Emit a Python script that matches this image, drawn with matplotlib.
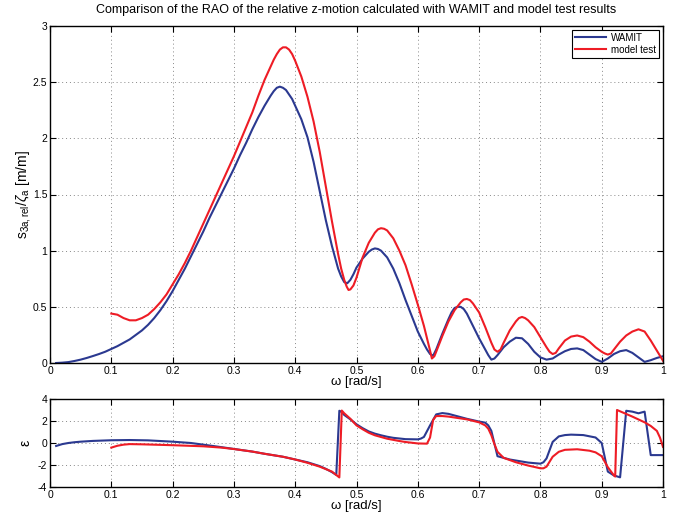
import matplotlib
matplotlib.use("Agg")
import matplotlib.pyplot as plt

plt.rcParams['font.family'] = ['Liberation Sans', 'DejaVu Sans']
plt.rcParams['mathtext.fontset'] = 'custom'
plt.rcParams['mathtext.rm'] = 'Liberation Sans'
plt.rcParams['mathtext.it'] = 'Liberation Sans:italic'
plt.rcParams['axes.unicode_minus'] = False

title = "Comparison of the RAO of the relative z-motion calculated with WAMIT and model test results"
series_names = ["WAMIT", "model test"]
xticks = [0, 0.1, 0.2, 0.3, 0.4, 0.5, 0.6, 0.7, 0.8, 0.9, 1]
xtick_labels = ["0", "0.1", "0.2", "0.3", "0.4", "0.5", "0.6", "0.7", "0.8", "0.9", "1"]
yticks_top = [0, 0.5, 1, 1.5, 2, 2.5, 3]
ytick_labels_top = ["0", "0.5", "1", "1.5", "2", "2.5", "3"]
yticks_bot = [-4, -2, 0, 2, 4]

# RAO amplitude - WAMIT
w_wamit = [0.01, 0.02, 0.03, 0.04, 0.05, 0.06, 0.07, 0.08, 0.09, 0.10,
           0.11, 0.12, 0.13, 0.14, 0.15, 0.16, 0.17, 0.18, 0.19, 0.20,
           0.21, 0.22, 0.23, 0.24, 0.25, 0.26, 0.27, 0.28, 0.29, 0.30,
           0.31, 0.32, 0.33, 0.34, 0.35, 0.36, 0.365, 0.37, 0.375, 0.38, 0.385, 0.39, 0.395, 0.40,
           0.41, 0.42, 0.43, 0.44, 0.45, 0.46, 0.47, 0.475, 0.48, 0.485, 0.49, 0.495, 0.50,
           0.51, 0.52, 0.525, 0.53, 0.535, 0.54, 0.55, 0.56, 0.57, 0.58, 0.59, 0.60,
           0.61, 0.615, 0.62, 0.625, 0.63, 0.64, 0.65, 0.655, 0.66, 0.665, 0.67, 0.675, 0.68, 0.69, 0.70,
           0.71, 0.715, 0.72, 0.725, 0.73, 0.74, 0.75, 0.76, 0.77, 0.78, 0.79, 0.80,
           0.81, 0.82, 0.83, 0.84, 0.85, 0.86, 0.87, 0.88, 0.89, 0.90,
           0.91, 0.92, 0.93, 0.94, 0.95, 0.96, 0.97, 0.98, 0.99, 1.00]
rao_wamit = [0.00, 0.003, 0.008, 0.018, 0.03, 0.045, 0.062, 0.08, 0.10, 0.125,
             0.15, 0.18, 0.21, 0.25, 0.29, 0.34, 0.40, 0.47, 0.55, 0.64,
             0.74, 0.84, 0.95, 1.06, 1.17, 1.29, 1.40, 1.51, 1.62, 1.73,
             1.85, 1.96, 2.08, 2.19, 2.29, 2.38, 2.42, 2.45, 2.46, 2.45, 2.43, 2.39, 2.35, 2.29,
             2.17, 2.01, 1.79, 1.53, 1.27, 1.04, 0.84, 0.77, 0.72, 0.71, 0.74, 0.79, 0.85,
             0.93, 0.99, 1.01, 1.02, 1.015, 1.00, 0.94, 0.84, 0.71, 0.56, 0.42, 0.28,
             0.17, 0.12, 0.08, 0.065, 0.12, 0.26, 0.39, 0.45, 0.49, 0.50, 0.50, 0.48, 0.44, 0.33, 0.22,
             0.12, 0.07, 0.03, 0.04, 0.07, 0.14, 0.19, 0.225, 0.22, 0.17, 0.10, 0.05,
             0.03, 0.04, 0.075, 0.105, 0.125, 0.13, 0.115, 0.075, 0.035, 0.01,
             0.04, 0.08, 0.105, 0.115, 0.09, 0.05, 0.01, 0.025, 0.045, 0.06]

# RAO amplitude - model test
w_model = [0.10, 0.11, 0.12, 0.13, 0.14, 0.15, 0.16, 0.17, 0.18, 0.19, 0.20,
           0.21, 0.22, 0.23, 0.24, 0.25, 0.26, 0.27, 0.28, 0.29, 0.30,
           0.31, 0.32, 0.33, 0.34, 0.35, 0.36, 0.365, 0.37, 0.375, 0.38, 0.385, 0.39, 0.395, 0.40,
           0.41, 0.42, 0.43, 0.44, 0.45, 0.46, 0.47, 0.475, 0.48, 0.484, 0.487, 0.49, 0.495, 0.50,
           0.51, 0.52, 0.53, 0.535, 0.54, 0.545, 0.55, 0.56, 0.57, 0.58, 0.59, 0.60,
           0.61, 0.615, 0.62, 0.623, 0.627, 0.63, 0.64, 0.65, 0.66, 0.67, 0.675, 0.68, 0.685, 0.69, 0.70,
           0.71, 0.72, 0.725, 0.73, 0.735, 0.74, 0.75, 0.76, 0.765, 0.77, 0.775, 0.78, 0.79, 0.80,
           0.81, 0.815, 0.82, 0.825, 0.83, 0.84, 0.85, 0.86, 0.87, 0.88, 0.89, 0.90,
           0.905, 0.91, 0.915, 0.92, 0.93, 0.94, 0.95, 0.96, 0.97, 0.98, 0.99, 1.00]
rao_model = [0.44, 0.43, 0.40, 0.38, 0.38, 0.40, 0.43, 0.48, 0.54, 0.61, 0.70,
             0.79, 0.89, 1.00, 1.12, 1.24, 1.36, 1.48, 1.60, 1.72, 1.84,
             1.97, 2.10, 2.23, 2.38, 2.52, 2.64, 2.70, 2.75, 2.79, 2.81, 2.81, 2.79, 2.75, 2.69,
             2.55, 2.37, 2.15, 1.88, 1.57, 1.26, 0.97, 0.84, 0.74, 0.68, 0.65, 0.655, 0.69, 0.76,
             0.94, 1.07, 1.16, 1.19, 1.20, 1.195, 1.18, 1.11, 1.00, 0.87, 0.70, 0.52,
             0.33, 0.22, 0.11, 0.04, 0.06, 0.10, 0.24, 0.37, 0.47, 0.54, 0.565, 0.57, 0.56, 0.53, 0.45,
             0.32, 0.18, 0.12, 0.10, 0.12, 0.18, 0.29, 0.37, 0.40, 0.41, 0.40, 0.38, 0.32, 0.23,
             0.14, 0.10, 0.08, 0.09, 0.13, 0.20, 0.235, 0.245, 0.23, 0.19, 0.14, 0.10,
             0.085, 0.075, 0.085, 0.12, 0.19, 0.245, 0.28, 0.30, 0.28, 0.20, 0.11, 0.02]

# Phase - WAMIT
wp_wamit = [0.01, 0.02, 0.03, 0.04, 0.05, 0.07, 0.10, 0.13, 0.16, 0.20, 0.23,
            0.25, 0.28, 0.30, 0.33, 0.35, 0.38, 0.40, 0.42, 0.44, 0.45, 0.46,
            0.467, 0.472, 0.475, 0.48, 0.49, 0.50, 0.51, 0.52, 0.53, 0.54,
            0.55, 0.56, 0.58, 0.60, 0.605, 0.61, 0.62, 0.63, 0.64, 0.65, 0.66,
            0.68, 0.70, 0.71, 0.715, 0.72, 0.73, 0.75, 0.78, 0.80, 0.805,
            0.81, 0.82, 0.83, 0.84, 0.85, 0.87, 0.89, 0.90, 0.91, 0.92, 0.93,
            0.94, 0.95, 0.96, 0.97, 0.98, 1.00]
ph_wamit = [-0.27, -0.10, 0.00, 0.07, 0.12, 0.19, 0.25, 0.27, 0.24, 0.12, 0.00,
            -0.15, -0.38, -0.54, -0.78, -0.98, -1.25, -1.50, -1.75, -2.10, -2.35, -2.65,
            -2.90, 2.93, 2.85, 2.55, 2.15, 1.70, 1.35, 1.05, 0.85, 0.70,
            0.57, 0.47, 0.35, 0.33, 0.40, 0.55, 1.60, 2.60, 2.72, 2.65, 2.50,
            2.20, 1.95, 1.85, 1.60, 1.10, -1.20, -1.50, -1.78, -1.88, -1.75,
            -1.40, 0.10, 0.60, 0.72, 0.76, 0.72, 0.50, 0.00, -2.60, -2.95, -3.12,
            2.93, 2.85, 2.70, 2.85, -1.10, -1.10]

# Phase - model test
wp_model = [0.10, 0.11, 0.12, 0.13, 0.15, 0.20, 0.25, 0.28, 0.30, 0.33, 0.35,
            0.38, 0.40, 0.42, 0.44, 0.46, 0.472, 0.476, 0.48, 0.49, 0.50, 0.51,
            0.52, 0.53, 0.55, 0.57, 0.58, 0.60, 0.615, 0.62, 0.625, 0.63, 0.64,
            0.65, 0.68, 0.70, 0.71, 0.715, 0.72, 0.725, 0.73, 0.74, 0.76, 0.78,
            0.80, 0.805, 0.81, 0.82, 0.83, 0.84, 0.86, 0.88, 0.89, 0.90, 0.91,
            0.92, 0.922, 0.925, 0.95, 0.97, 0.98, 0.99, 0.995, 1.00]
ph_model = [-0.42, -0.25, -0.15, -0.10, -0.12, -0.20, -0.30, -0.42, -0.55, -0.78, -0.98,
            -1.25, -1.50, -1.80, -2.15, -2.60, -3.13, 2.95, 2.70, 2.20, 1.60, 1.25,
            0.93, 0.70, 0.39, 0.18, 0.09, -0.04, -0.06, 0.50, 2.10, 2.45, 2.45,
            2.40, 2.15, 1.88, 1.60, 1.30, 0.70, -0.10, -0.80, -1.35, -1.75, -2.05,
            -2.30, -2.30, -2.15, -1.25, -0.80, -0.62, -0.57, -0.70, -0.85, -1.20, -2.20,
            -2.95, -3.05, 3.00, 2.40, 1.88, 1.55, 1.10, 0.50, -0.35]

blue = '#2b3990'
red = '#ee1c25'

fig = plt.figure(figsize=(6.73, 5.13), dpi=100)
ax1 = fig.add_axes([50/673, (513-363)/513, 613/673, 337/513])
ax2 = fig.add_axes([50/673, (513-487)/513, 613/673, 88/513])

def style(ax):
    ax.grid(True, linestyle=(0, (1, 3)), color='#888888', linewidth=0.7)
    ax.tick_params(direction='in', top=True, right=True, labelsize=7.5,
                   length=4, width=0.8, colors='black', pad=2)
    for s in ax.spines.values():
        s.set_linewidth(1.0)
    ax.set_xlim(0, 1)
    ax.set_xticks(xticks)
    ax.set_xticklabels(xtick_labels)

ax1.plot(w_wamit, rao_wamit, color=blue, lw=1.5, label=series_names[0])
ax1.plot(w_model, rao_model, color=red, lw=1.5, label=series_names[1])
style(ax1)
ax1.set_ylim(0, 3)
ax1.set_yticks(yticks_top)
ax1.set_yticklabels(ytick_labels_top)
ax1.set_xlabel('ω [rad/s]', fontsize=9.5, labelpad=0)
ax1.set_ylabel(r'$\mathrm{s}_{\mathrm{3a,rel}}/\zeta_{\mathrm{a}}$ [m/m]', fontsize=10, labelpad=0)
ax1.set_title(title, fontsize=9, pad=9)
leg = ax1.legend(loc='upper right', fontsize=7, frameon=True, fancybox=False,
                 edgecolor='black', framealpha=1, handlelength=3.2,
                 borderpad=0.3, labelspacing=0.2, handletextpad=0.5,
                 borderaxespad=0.4)
leg.get_frame().set_linewidth(0.8)

ax2.plot(wp_wamit, ph_wamit, color=blue, lw=1.5)
ax2.plot(wp_model, ph_model, color=red, lw=1.5)
style(ax2)
ax2.set_ylim(-4, 4)
ax2.set_yticks(yticks_bot)
ax2.set_xlabel('ω [rad/s]', fontsize=9.5, labelpad=0)
ax2.set_ylabel('ε', fontsize=10, labelpad=4)

fig.savefig('out.png', dpi=100)
